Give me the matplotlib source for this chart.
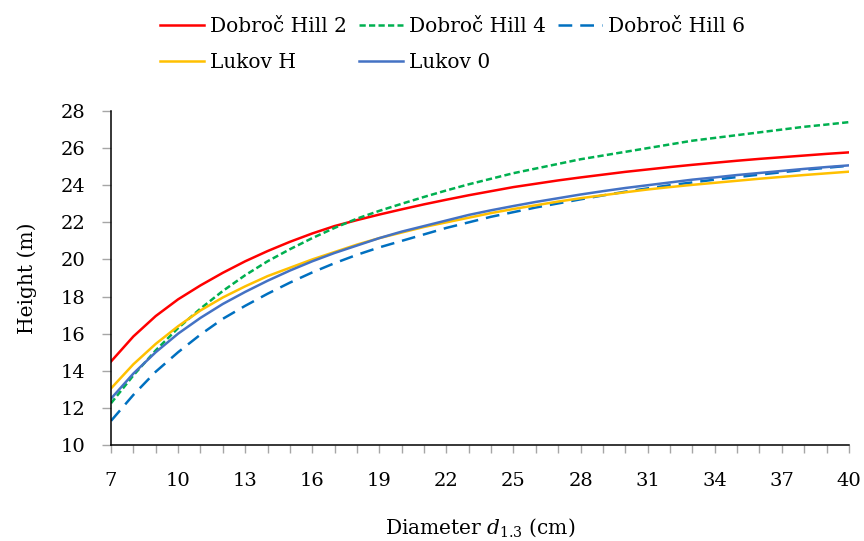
import matplotlib
matplotlib.use("Agg")
import matplotlib.pyplot as plt

plt.rcParams['font.family'] = ['DejaVu Serif']
plt.rcParams['mathtext.fontset'] = 'dejavuserif'

# diameter classes (cm)
diameter = list(range(7, 41))

# heights (m)
dobroc_hill_2 = [14.5, 15.85, 16.95, 17.85, 18.6, 19.28, 19.9, 20.45, 20.95, 21.4,
                 21.8, 22.12, 22.42, 22.7, 22.97, 23.22, 23.46, 23.68, 23.9, 24.08,
                 24.26, 24.42, 24.57, 24.72, 24.85, 24.98, 25.1, 25.21, 25.32, 25.42,
                 25.51, 25.6, 25.69, 25.77]
dobroc_hill_4 = [12.25, 13.75, 15.1, 16.3, 17.35, 18.3, 19.15, 19.9, 20.55, 21.15,
                 21.7, 22.2, 22.62, 23.0, 23.37, 23.72, 24.05, 24.35, 24.65, 24.9,
                 25.15, 25.4, 25.6, 25.8, 26.0, 26.2, 26.4, 26.55, 26.7, 26.85,
                 27.0, 27.15, 27.27, 27.4]
dobroc_hill_6 = [11.3, 12.7, 13.95, 15.0, 15.95, 16.8, 17.5, 18.15, 18.75, 19.3,
                 19.8, 20.25, 20.65, 21.0, 21.35, 21.7, 22.0, 22.3, 22.55, 22.8,
                 23.02, 23.24, 23.45, 23.65, 23.83, 24.0, 24.15, 24.3, 24.44, 24.57,
                 24.7, 24.83, 24.94, 25.05]
lukov_h = [13.05, 14.35, 15.45, 16.4, 17.25, 17.95, 18.55, 19.1, 19.55, 20.0,
           20.4, 20.8, 21.15, 21.45, 21.75, 22.0, 22.25, 22.5, 22.72, 22.92,
           23.12, 23.3, 23.46, 23.62, 23.77, 23.9, 24.02, 24.13, 24.24, 24.35,
           24.45, 24.55, 24.64, 24.73]
lukov_0 = [12.5, 13.85, 15.0, 16.0, 16.85, 17.6, 18.25, 18.85, 19.4, 19.9,
           20.35, 20.75, 21.15, 21.5, 21.8, 22.1, 22.4, 22.65, 22.88, 23.1,
           23.3, 23.5, 23.68, 23.85, 24.0, 24.15, 24.3, 24.42, 24.55, 24.66,
           24.77, 24.88, 24.98, 25.07]

fig = plt.figure(figsize=(8.64, 5.41), dpi=100)
ax = fig.add_axes([0.1285, 0.1775, 0.854, 0.6173])

lw = 1.8
l1, = ax.plot(diameter, dobroc_hill_2, color='#FF0000', lw=lw, label='Dobroč Hill 2')
l2, = ax.plot(diameter, dobroc_hill_4, color='#00B050', lw=lw, dashes=(2.5, 1.3),
              label='Dobroč Hill 4')
l3, = ax.plot(diameter, dobroc_hill_6, color='#0070C0', lw=lw, dashes=(5.5, 3.2),
              label='Dobroč Hill 6')
l4, = ax.plot(diameter, lukov_h, color='#FFC000', lw=lw, label='Lukov H')
l5, = ax.plot(diameter, lukov_0, color='#4472C4', lw=lw, label='Lukov 0')

ax.set_xlim(7, 40)
ax.set_ylim(10, 28)
ax.set_xticks(range(7, 41, 3))
ax.set_xticks(range(7, 41), minor=True)
ax.set_yticks(range(10, 29, 2))

for s in ['top', 'right']:
    ax.spines[s].set_visible(False)
for s in ['left', 'bottom']:
    ax.spines[s].set_linewidth(1.1)
    ax.spines[s].set_color('black')

ax.tick_params(axis='x', which='both', direction='out', length=5.5, width=1,
               color='#A6A6A6', pad=14, labelsize=14)
ax.tick_params(axis='x', which='minor', labelbottom=False)
ax.tick_params(axis='y', direction='out', length=6.5, width=1,
               color='#A6A6A6', pad=12, labelsize=14)

ax.set_ylabel('Height (m)', fontsize=14.5, labelpad=17)
ax.set_xlabel('Diameter $d_{1.3}$ (cm)', fontsize=14.5, labelpad=19)

fig.legend([l1, l4, l2, l5, l3],
           ['Dobroč Hill 2', 'Lukov H', 'Dobroč Hill 4', 'Lukov 0', 'Dobroč Hill 6'],
           ncol=3, loc='upper left', bbox_to_anchor=(0.166, 0.998), frameon=False,
           fontsize=14.5, handlelength=2.2, handletextpad=0.3, columnspacing=0.6,
           labelspacing=0.85, borderpad=0.3)

fig.savefig('out.png', dpi=100)
